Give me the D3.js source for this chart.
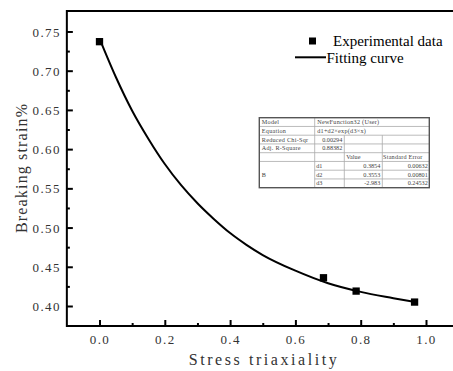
<!DOCTYPE html>
<html><head><meta charset="utf-8">
<script src="https://cdn.jsdelivr.net/npm/d3@7"></script>
<style>html,body{margin:0;padding:0;background:#fff;overflow:hidden}
.serif{font-family:"Liberation Serif","Times New Roman",Times,serif}</style>
</head><body>
<svg id="c" width="453" height="371"></svg>
<script>
// ---- data ----
const expX = [0, 0.686, 0.786, 0.965];
const expY = [0.737, 0.436, 0.419, 0.405];
const fitX = [0, 0.05, 0.1, 0.15, 0.2, 0.25, 0.3, 0.35, 0.4, 0.45, 0.5, 0.6, 0.7, 0.8, 0.9, 0.967];
const fitY = [0.741, 0.692, 0.649, 0.613, 0.581, 0.554, 0.531, 0.511, 0.493, 0.478, 0.465, 0.445, 0.429, 0.418, 0.410, 0.405];
const xTicks = [0, 0.2, 0.4, 0.6, 0.8, 1.0];
const xMinor = [0.1, 0.3, 0.5, 0.7, 0.9];
const yTicks = [0.40, 0.45, 0.50, 0.55, 0.60, 0.65, 0.70, 0.75];
const yMinor = [0.425, 0.475, 0.525, 0.575, 0.625, 0.675, 0.725];
const legendLabels = ["Experimental data", "Fitting curve"];
const tableRows = [
  ["Model", "NewFunction32 (User)"],
  ["Equation", "d1+d2\u00d7exp(d3\u00d7x)"],
  ["Reduced Chi-Sqr", "0.00294"],
  ["Adj. R-Square", "0.88382"]
];
const paramNames = ["d1", "d2", "d3"];
const paramValues = ["0.3854", "0.3553", "-2.983"];
const paramErrors = ["0.00632", "0.00801", "0.24532"];

// ---- chart ----
const svg = d3.select("#c");
const L = 66.85, R = 458.65, T = 11, B = 326;
const x = d3.scaleLinear().domain([-0.1, 1.1]).range([L, R]);
const y = d3.scaleLinear().domain([0.3745, 0.7761]).range([B, T]);

// axes
const gx = svg.append("g").attr("transform", `translate(0,${B})`)
  .call(d3.axisBottom(x).tickValues(xTicks).tickSize(-6).tickPadding(9).tickFormat(d3.format(".1f")));
const gxm = svg.append("g").attr("transform", `translate(0,${B})`)
  .call(d3.axisBottom(x).tickValues(xMinor).tickSize(-3).tickFormat(""));
const gy = svg.append("g").attr("transform", `translate(${L},0)`)
  .call(d3.axisLeft(y).tickValues(yTicks).tickSize(-6).tickPadding(6).tickFormat(d3.format(".2f")));
const gym = svg.append("g").attr("transform", `translate(${L},0)`)
  .call(d3.axisLeft(y).tickValues(yMinor).tickSize(-3).tickFormat(""));
[gx, gxm, gy, gym].forEach(g => {
  g.attr("font-family", null).attr("font-size", null).attr("class", "serif");
  g.select(".domain").remove();
  g.selectAll(".tick line").attr("stroke", "#000").attr("stroke-width", 2);
  g.selectAll("text").attr("class", "serif").attr("font-size", 13)
    .attr("letter-spacing", "1.4px").attr("fill", "#333");
});
gy.selectAll("text").attr("dy", "0.35em");

// frame (right edge lies outside the window)
svg.append("path")
  .attr("d", `M${R},${T}H${L}V${B}H${R}V${T}`)
  .attr("fill", "none").attr("stroke", "#000").attr("stroke-width", 2);

// fitted curve
const pts = fitX.map((v, i) => [v, fitY[i]]);
svg.append("path").datum(pts)
  .attr("d", d3.line().x(d => x(d[0])).y(d => y(d[1])).curve(d3.curveMonotoneX))
  .attr("fill", "none").attr("stroke", "#000").attr("stroke-width", 2);

// data points
const ms = 7.3;
svg.append("g").selectAll("rect").data(expX.map((v, i) => [v, expY[i]])).join("rect")
  .attr("x", d => x(d[0]) - ms / 2).attr("y", d => y(d[1]) - ms / 2)
  .attr("width", ms).attr("height", ms).attr("fill", "#000");

// axis titles
svg.append("text").attr("class", "serif").attr("x", (L + R) / 2).attr("y", 365)
  .attr("text-anchor", "middle").attr("font-size", 16)
  .attr("textLength", 148).attr("lengthAdjust", "spacing").attr("fill", "#333")
  .text("Stress triaxiality");
svg.append("text").attr("class", "serif").attr("transform", `translate(27,${(T + B) / 2}) rotate(-90)`)
  .attr("text-anchor", "middle").attr("font-size", 16)
  .attr("textLength", 129).attr("lengthAdjust", "spacing").attr("fill", "#333")
  .text("Breaking strain%");

// legend
const lg = svg.append("g").attr("class", "serif").attr("font-size", 15).attr("fill", "#000");
lg.append("rect").attr("x", 309).attr("y", 37.5).attr("width", 7).attr("height", 7).attr("fill", "#000");
lg.append("text").attr("x", 333).attr("y", 45.5).text(legendLabels[0]);
lg.append("line").attr("x1", 295).attr("x2", 326).attr("y1", 57.3).attr("y2", 57.3)
  .attr("stroke", "#000").attr("stroke-width", 2);
lg.append("text").attr("x", 326.5).attr("y", 62.5).text(legendLabels[1]);

// inset table
const tx = [259.3, 314.7, 344.3, 382.3, 429.3];
const tTop = 117.7, rh = 8.75;
const tg = svg.append("g").attr("class", "serif").attr("font-size", 6.2).attr("fill", "#444");
const rowY = i => tTop + i * rh;
tg.append("rect").attr("x", tx[0]).attr("y", tTop).attr("width", tx[4] - tx[0]).attr("height", rh * 8)
  .attr("fill", "#fff");
const ln = (x1, y1, x2, y2) => tg.append("line").attr("x1", x1).attr("y1", y1).attr("x2", x2).attr("y2", y2)
  .attr("stroke", "#aaa").attr("stroke-width", 0.8);
for (let i = 1; i < 8; i++) {
  if (i >= 6) ln(tx[1], rowY(i), tx[4], rowY(i)); else ln(tx[0], rowY(i), tx[4], rowY(i));
}
ln(tx[1], rowY(0), tx[1], rowY(8));
ln(tx[2], rowY(2), tx[2], rowY(8));
ln(tx[3], rowY(2), tx[3], rowY(8));
tg.append("rect").attr("x", tx[0]).attr("y", tTop).attr("width", tx[4] - tx[0]).attr("height", rh * 8)
  .attr("fill", "none").attr("stroke", "#555").attr("stroke-width", 1.4);
tableRows.forEach((r, i) => {
  tg.append("text").attr("x", tx[0] + 2.5).attr("y", rowY(i + 1) - 2.3).attr("letter-spacing", "0.25px").text(r[0]);
  if (i < 2) tg.append("text").attr("x", tx[1] + 2.5).attr("y", rowY(i + 1) - 2.3).attr("letter-spacing", "0.25px").text(r[1]);
  else tg.append("text").attr("x", tx[2] - 2).attr("y", rowY(i + 1) - 2.3).attr("text-anchor", "end").text(r[1]);
});
tg.append("text").attr("x", tx[2] + 2).attr("y", rowY(5) - 2.3).text("Value");
tg.append("text").attr("x", tx[3] + 0.8).attr("y", rowY(5) - 2.3).attr("letter-spacing", "0.2px").text("Standard Error");
tg.append("text").attr("x", tx[0] + 2.5).attr("y", rowY(6.5) + 2).text("B");
paramNames.forEach((n, i) => {
  const yy = rowY(i + 6) - 2.3;
  tg.append("text").attr("x", tx[1] + 1.5).attr("y", yy).text(n);
  tg.append("text").attr("x", tx[3] - 2).attr("y", yy).attr("text-anchor", "end").text(paramValues[i]);
  tg.append("text").attr("x", tx[4] - 1.5).attr("y", yy).attr("text-anchor", "end").text(paramErrors[i]);
});
</script>
</body></html>
